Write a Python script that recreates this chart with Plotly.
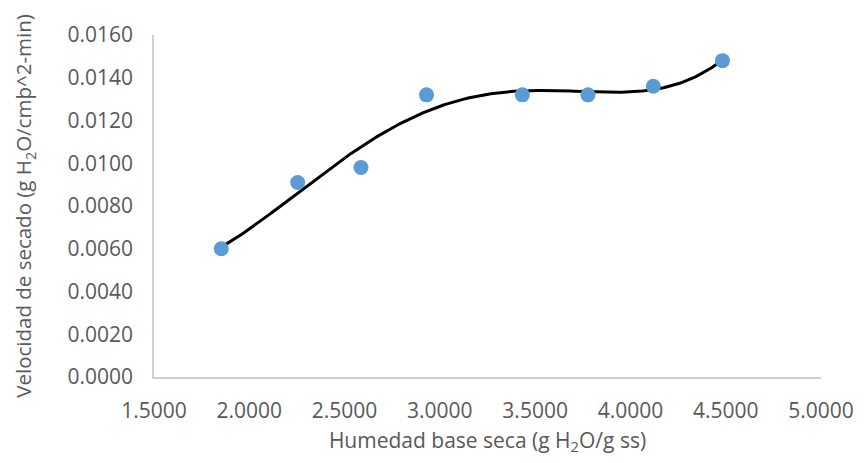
import numpy as np
import plotly.graph_objects as go

humedad = [1.853, 2.254, 2.586, 2.930, 3.433, 3.777, 4.120, 4.483]
velocidad = [0.0060, 0.0091, 0.0098, 0.0132, 0.0132, 0.0132, 0.0136, 0.0148]
x_ticks = [1.5, 2.0, 2.5, 3.0, 3.5, 4.0, 4.5, 5.0]
y_ticks = [0.0, 0.002, 0.004, 0.006, 0.008, 0.010, 0.012, 0.014, 0.016]
poly_order = 4

coef = np.polyfit(humedad, velocidad, poly_order)
xs = np.linspace(min(humedad), max(humedad), 200)
ys = np.polyval(coef, xs)

font_family = "Open Sans, Noto Sans, sans-serif"
grey = "#595959"

fig = go.Figure()
fig.add_trace(go.Scatter(x=xs, y=ys, mode="lines",
                         line=dict(color="black", width=3), hoverinfo="skip",
                         showlegend=False))
fig.add_trace(go.Scatter(x=humedad, y=velocidad, mode="markers",
                         marker=dict(color="#5B9BD5", size=15),
                         showlegend=False))

# page has an 8px body margin, so the figure is sized/offset to compensate
fig.update_layout(
    width=858, height=455,
    margin=dict(l=146, r=38, t=24, b=86),
    paper_bgcolor="white", plot_bgcolor="white",
    font=dict(family=font_family, color=grey, size=21),
    xaxis=dict(range=[1.5, 5.0], tickvals=x_ticks, tickformat=".4f",
               showgrid=False, zeroline=False, showline=True,
               linecolor="#D0D0D0", linewidth=1.5, ticks="",
               ticklabelstandoff=14,
               title=dict(text="Humedad base seca (g H<sub>2</sub>O/g ss)",
                          font=dict(size=21, color=grey), standoff=10)),
    yaxis=dict(range=[0, 0.016], tickvals=y_ticks, tickformat=".4f",
               showgrid=False, zeroline=False, showline=True,
               linecolor="#D0D0D0", linewidth=1.5, ticks="",
               ticklabelstandoff=15,
               title=dict(text="Velocidad de secado (g H<sub>2</sub>O/cmþ^2-min)",
                          font=dict(size=20.5, color=grey), standoff=30)),
)

fig.write_html("out.html")
